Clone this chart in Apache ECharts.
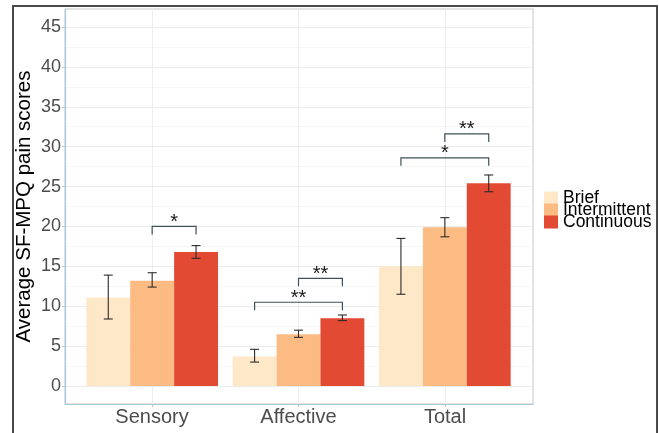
<!DOCTYPE html>
<html>
<head>
<meta charset="utf-8">
<script src="https://cdn.jsdelivr.net/npm/echarts@6/dist/echarts.min.js"></script>
<style>
html,body{margin:0;padding:0;background:#fff;}
#chart{width:659px;height:433px;}
</style>
</head>
<body>
<div id="chart"></div>
<script>
const categories = ['Sensory', 'Affective', 'Total'];
const groups = ['Brief', 'Intermittent', 'Continuous'];
const brief = [11.1, 3.7, 15.0];
const intermittent = [13.2, 6.5, 19.9];
const continuous = [16.8, 8.5, 25.4];
const briefErr = [[8.4, 13.9], [3.0, 4.6], [11.5, 18.5]];
const intermittentErr = [[12.4, 14.2], [6.1, 7.0], [18.7, 21.1]];
const continuousErr = [[16.0, 17.6], [8.2, 8.9], [24.35, 26.45]];
// [category index, from group, to group, height]
const brackets = [[0, 1, 2, 20.0], [1, 0, 2, 10.5], [1, 1, 2, 13.5], [2, 0, 2, 28.6], [2, 1, 2, 31.6]];
const bracketLabels = ['*', '**', '**', '*', '**'];
const yMin = 0, yMax = 45, yStep = 5;
const colors = ['#fee8c8', '#fdbb84', '#e34a33'];

const FONT = 'Liberation Sans, Arial, sans-serif';
const values = [brief, intermittent, continuous];
const errs = [briefErr, intermittentErr, continuousErr];

const errData = [];
errs.forEach((arr, s) => arr.forEach((e, c) => errData.push([c, e[0], e[1], s])));

const GROUP_W = 0.9;
function barCenter(api, cat, g) {
  const band = api.size([1, 0])[0];
  const w = band * GROUP_W / 3;
  return api.coord([cat, 0])[0] + (g - 1) * w;
}

const chart = echarts.init(document.getElementById('chart'), null, {renderer: 'canvas'});
chart.setOption({
  animation: false,
  backgroundColor: '#fff',
  textStyle: {fontFamily: FONT},
  graphic: [{
    type: 'rect', silent: true, z: 100,
    shape: {x: 13, y: 6, width: 644, height: 450},
    style: {fill: 'none', stroke: '#4a4a4a', lineWidth: 2}
  }],
  legend: {
    orient: 'vertical', left: 544, top: 189,
    itemWidth: 14, itemHeight: 13, itemGap: -6,
    icon: 'rect',
    data: groups,
    textStyle: {fontSize: 17.5, lineHeight: 13, color: '#000', fontFamily: FONT},
    padding: 0
  },
  grid: [
    {left: 65, right: 126, top: 9, bottom: 29, show: true, borderColor: '#c6c6c6', borderWidth: 1, backgroundColor: '#fff', containLabel: false},
    {left: 152, right: 214, top: 9, bottom: 29, containLabel: false},
    {left: 65, right: 126, top: 27, bottom: 47, containLabel: false},
    {left: 79, right: 141, top: 27, bottom: 47, containLabel: false}
  ],
  xAxis: [
    {gridIndex: 0, type: 'value', min: 0, max: 1, axisLine: {show: true, onZero: false, lineStyle: {color: '#a9c9dd', width: 1.2}}, axisTick: {show: false}, axisLabel: {show: false}, splitLine: {show: false}},
    {gridIndex: 1, type: 'category', data: categories, boundaryGap: false,
      axisLine: {show: false},
      axisTick: {show: true, length: 3, lineStyle: {color: '#a9c9dd'}},
      axisLabel: {show: true, fontSize: 20, color: '#4d4d4d', margin: 3, fontFamily: FONT},
      splitLine: {show: true, lineStyle: {color: '#eeeeee', width: 1}}},
    {gridIndex: 2, type: 'value', min: 0, max: 1, show: false},
    {gridIndex: 3, type: 'category', data: categories, show: false}
  ],
  yAxis: [
    {gridIndex: 0, type: 'value', min: 0, max: 1, axisLine: {show: true, onZero: false, lineStyle: {color: '#a9c9dd', width: 1.2}}, axisTick: {show: false}, axisLabel: {show: false}, splitLine: {show: false}},
    {gridIndex: 1, type: 'value', min: 0, max: 1, show: false},
    {gridIndex: 2, type: 'value', min: yMin, max: yMax, interval: yStep,
      name: 'Average SF-MPQ pain scores', nameLocation: 'middle', nameGap: 30,
      nameMoveOverlap: false,
      nameTextStyle: {fontSize: 20.5, color: '#000', fontFamily: FONT},
      axisLine: {show: false},
      axisTick: {show: true, length: 3, lineStyle: {color: '#a9c9dd'}},
      axisLabel: {fontSize: 18, color: '#4d4d4d', margin: 4, fontFamily: FONT},
      splitLine: {show: true, lineStyle: {color: '#ececec', width: 1}},
      minorTick: {show: false, splitNumber: 2},
      minorSplitLine: {show: true, lineStyle: {color: '#f6f6f6', width: 1}}},
    {gridIndex: 3, type: 'value', min: yMin, max: yMax, show: false}
  ],
  series: [
    ...groups.map((g, i) => ({
      name: g, type: 'bar', xAxisIndex: 3, yAxisIndex: 3,
      data: values[i], barGap: '0%', barCategoryGap: '10%',
      itemStyle: {color: colors[i]}, z: 3
    })),
    {
      type: 'custom', xAxisIndex: 3, yAxisIndex: 3, z: 5, silent: true,
      data: errData,
      renderItem: function (params, api) {
        const c = api.value(0), lo = api.value(1), hi = api.value(2), s = api.value(3);
        const x = barCenter(api, c, s);
        const y1 = api.coord([c, lo])[1], y2 = api.coord([c, hi])[1];
        const h = 4.5;
        const st = {stroke: '#2b2b2b', lineWidth: 1.1};
        return {type: 'group', children: [
          {type: 'line', shape: {x1: x, y1: y1, x2: x, y2: y2}, style: st},
          {type: 'line', shape: {x1: x - h, y1: y1, x2: x + h, y2: y1}, style: st},
          {type: 'line', shape: {x1: x - h, y1: y2, x2: x + h, y2: y2}, style: st}
        ]};
      }
    },
    {
      type: 'custom', xAxisIndex: 3, yAxisIndex: 3, z: 6, silent: true,
      data: brackets,
      renderItem: function (params, api) {
        const c = api.value(0), g1 = api.value(1), g2 = api.value(2), yv = api.value(3);
        const xa = barCenter(api, c, g1), xb = barCenter(api, c, g2);
        const y = api.coord([c, yv])[1], yd = api.coord([c, yv - 1])[1];
        return {type: 'group', children: [
          {type: 'polyline', shape: {points: [[xa, yd], [xa, y], [xb, y], [xb, yd]]},
            style: {fill: 'none', stroke: '#3e5058', lineWidth: 1.2}},
          {type: 'text', style: {x: (xa + xb) / 2, y: y + 6, text: bracketLabels[params.dataIndex],
            fill: '#1a1a1a', fontSize: 20, fontFamily: FONT, align: 'center', verticalAlign: 'bottom'}}
        ]};
      }
    }
  ]
});
</script>
</body>
</html>
